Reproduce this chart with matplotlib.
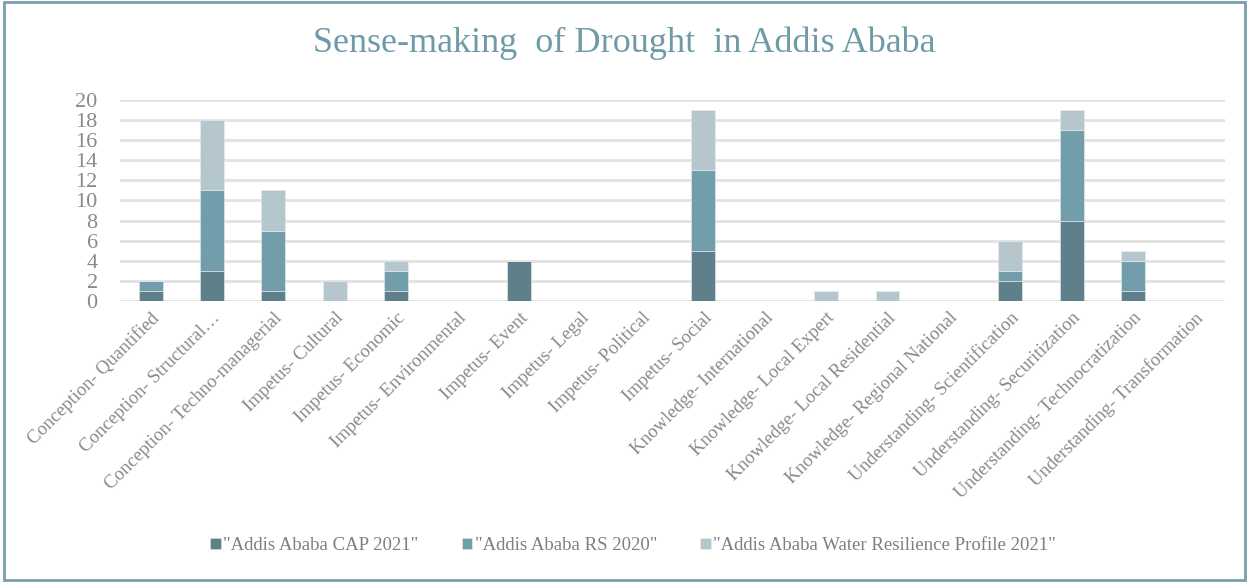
import numpy as np
import matplotlib
matplotlib.use('Agg')
import matplotlib.pyplot as plt
from matplotlib.patches import Rectangle

categories = [
    'Conception- Quantified', 'Conception- Structural…', 'Conception- Techno-managerial',
    'Impetus- Cultural', 'Impetus- Economic', 'Impetus- Environmental', 'Impetus- Event',
    'Impetus- Legal', 'Impetus- Political', 'Impetus- Social', 'Knowledge- International',
    'Knowledge- Local Expert', 'Knowledge- Local Residential', 'Knowledge- Regional National',
    'Understanding- Scientification', 'Understanding- Securitization',
    'Understanding- Technocratization', 'Understanding- Transformation',
]
cap_2021 = [1, 3, 1, 0, 1, 0, 4, 0, 0, 5, 0, 0, 0, 0, 2, 8, 1, 0]
rs_2020 = [1, 8, 6, 0, 2, 0, 0, 0, 0, 8, 0, 0, 0, 0, 1, 9, 3, 0]
water_2021 = [0, 7, 4, 2, 1, 0, 0, 0, 0, 6, 0, 1, 1, 0, 3, 2, 1, 0]
series_names = ['"Addis Ababa CAP 2021"', '"Addis Ababa RS 2020"',
                '"Addis Ababa Water Resilience Profile 2021"']
colors = ['#5f7f8b', '#729dab', '#b5c6cd']

plt.rcParams['font.family'] = 'serif'
plt.rcParams['font.serif'] = ['Liberation Serif', 'DejaVu Serif']

fig = plt.figure(figsize=(12.49, 5.82), dpi=100)
ax = fig.add_axes([0.096, 0.483, 0.885, 0.345])

x = np.arange(len(categories))
bottom = np.zeros(len(categories))
for vals, name, c in zip([cap_2021, rs_2020, water_2021], series_names, colors):
    ax.bar(x, vals, width=0.39, bottom=bottom, color=c, label=name,
           edgecolor='#e8eef0', linewidth=0.4, zorder=3)
    bottom += np.array(vals)

ax.set_ylim(0, 20)
ax.set_xlim(-0.5, len(categories) - 0.5)
ax.set_yticks(range(0, 21, 2))
ax.yaxis.grid(True, color='#e2e2e2', linewidth=2, zorder=0)
ax.set_axisbelow(True)
for s in ax.spines.values():
    s.set_visible(False)
ax.tick_params(length=0, colors='#8a8a8a')
ax.tick_params(axis='y', labelsize=16, pad=16)
ax.set_xticks(x)
ax.set_xticklabels(categories, rotation=45, ha='right', rotation_mode='anchor',
                   fontsize=13.5, color='#8a8a8a')
ax.tick_params(axis='x', pad=6)

fig.suptitle('Sense-making  of Drought  in Addis Ababa', y=0.955, fontsize=26,
             color='#6f9aa8')

fig.legend(loc='center', bbox_to_anchor=(0.507, 0.063), ncol=3, frameon=False,
           fontsize=13.5, labelcolor='#7f7f7f', handlelength=0.55, handleheight=0.55,
           handletextpad=0.15, columnspacing=2.3)

# outer frame
fig.patches.append(Rectangle((0.003, 0.004), 0.994, 0.992, transform=fig.transFigure,
                             fill=False, edgecolor='#7a9eab', linewidth=2))

fig.savefig('out.png', dpi=100)
